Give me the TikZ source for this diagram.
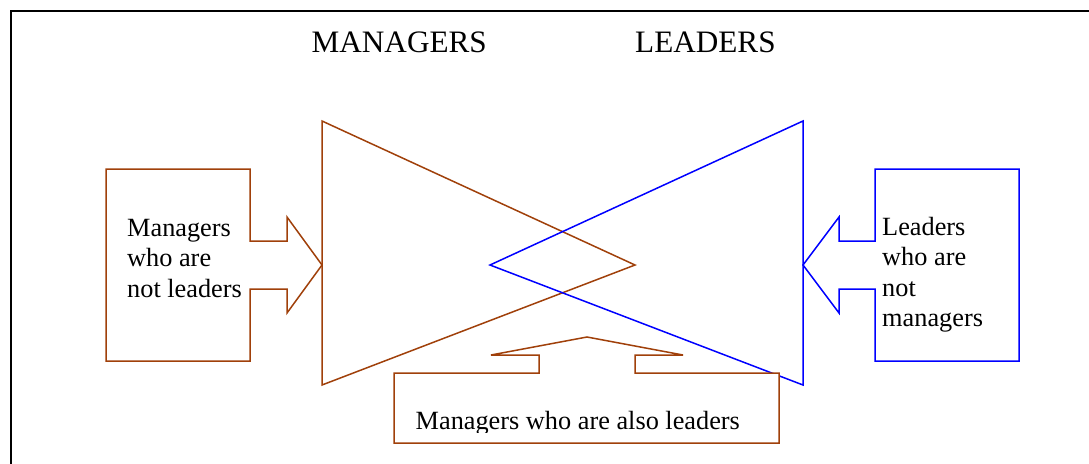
\documentclass[tikz,border=0pt]{standalone}
\usepackage{fontspec}
\setmainfont{Liberation Serif}
\definecolor{mbrown}{RGB}{160,64,10}
\definecolor{lblue}{RGB}{0,0,255}
\tikzset{
  shp/.style={line width=1.5pt, line join=miter},
  txt/.style={anchor=base west, inner sep=0pt, font=\fontsize{26.3}{30}\selectfont},
  ttl/.style={anchor=base west, inner sep=0pt, font=\fontsize{31.2}{36}\selectfont},
}
\begin{document}
\begin{tikzpicture}[x=1pt,y=-1pt]
\useasboundingbox (0,0) rectangle (1089,463);
% frame
\draw[line width=2pt] (11,470) -- (11,11) -- (1095,11);
% titles
\node[ttl] (tm) at (311.5,52.3) {MANAGERS};
\node[ttl] (tl) at (635,52.3) {LEADERS};
% triangles
\draw[shp,mbrown] (322,121) -- (635,265) -- (322,385) -- cycle;
\draw[shp,lblue] (803,121) -- (490,265) -- (803,385) -- cycle;
% left callout
\draw[shp,mbrown,fill=white] (106,169) -- (250,169) -- (250,241) -- (287,241) -- (287,217) -- (322,265)
  -- (287,313) -- (287,289) -- (250,289) -- (250,361) -- (106,361) -- cycle;
\node[txt] (a1) at (127,236) {Managers};
\node[txt] (a2) at (127,266.5) {who are};
\node[txt] (a3) at (127,297) {not leaders};
% right callout
\draw[shp,lblue,fill=white] (1019,169) -- (875,169) -- (875,241) -- (839,241) -- (839,217) -- (803,265)
  -- (839,313) -- (839,289) -- (875,289) -- (875,361) -- (1019,361) -- cycle;
\node[txt] (b1) at (882,235) {Leaders};
\node[txt] (b2) at (882,265.5) {who are};
\node[txt] (b3) at (882,296) {not};
\node[txt] (b4) at (882,326) {managers};
% bottom callout
\draw[shp,mbrown,fill=white] (394,373) -- (539,373) -- (539,355) -- (491,355) -- (587,337) -- (683,355)
  -- (635,355) -- (635,373) -- (779,373) -- (779,443) -- (394,443) -- cycle;
\begin{scope}
\clip (394,373) rectangle (779,432);
\node[txt] (c1) at (415.5,429.5) {Managers who are also leaders};
\end{scope}
\end{tikzpicture}
\end{document}
